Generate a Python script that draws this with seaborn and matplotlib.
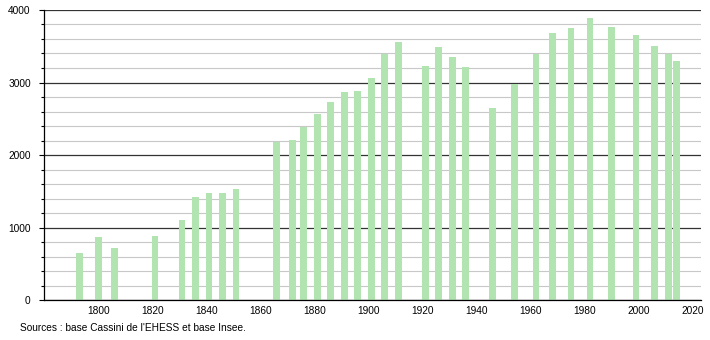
import matplotlib
matplotlib.use("Agg")
import matplotlib.pyplot as plt
import seaborn as sns
import pandas as pd
from matplotlib.ticker import MultipleLocator

years = [1793, 1800, 1806, 1821, 1831, 1836, 1841, 1846, 1851, 1866, 1872, 1876,
         1881, 1886, 1891, 1896, 1901, 1906, 1911, 1921, 1926, 1931, 1936, 1946,
         1954, 1962, 1968, 1975, 1982, 1990, 1999, 2006, 2011, 2014]
population = [650, 864, 717, 883, 1103, 1416, 1471, 1476, 1526, 2186, 2207, 2382,
              2561, 2731, 2869, 2883, 3062, 3389, 3559, 3228, 3490, 3352, 3214, 2648,
              2979, 3389, 3683, 3752, 3890, 3766, 3655, 3503, 3389, 3297]
x_ticks = [1800, 1820, 1840, 1860, 1880, 1900, 1920, 1940, 1960, 1980, 2000, 2020]
y_ticks = [0, 1000, 2000, 3000, 4000]
source_text = "Sources : base Cassini de l'EHESS et base Insee."

df = pd.DataFrame({"year": years, "pop": population})

sns.set_style("white")
plt.rcParams["font.family"] = ["Liberation Sans", "DejaVu Sans"]

fig = plt.figure(figsize=(7.1, 3.4), dpi=100)
ax = fig.add_axes([0.0624, 0.1176, 0.9246, 0.853])

sns.barplot(data=df, x="year", y="pop", native_scale=True, width=0.83,
            color="#b1e4b1", saturation=1, ax=ax, linewidth=0, edgecolor="none")
for p in ax.patches:
    p.set_zorder(3)
    p.set_linewidth(0)

ax.set_xlim(1780, 2023)
ax.set_ylim(0, 4000)
ax.set_xticks(x_ticks)
ax.set_xticklabels([str(t) for t in x_ticks])
ax.set_yticks(y_ticks)
ax.yaxis.set_minor_locator(MultipleLocator(200))
ax.set_xlabel("")
ax.set_ylabel("")

ax.grid(False)
ax.set_axisbelow(True)
ax.yaxis.grid(True, which="minor", color="#c8c8c8", linewidth=0.8)
ax.yaxis.grid(True, which="major", color="#333333", linewidth=0.9)

for s in ["right", "top"]:
    ax.spines[s].set_visible(False)
for s in ["left", "bottom"]:
    ax.spines[s].set_color("black")
    ax.spines[s].set_linewidth(0.9)
    ax.spines[s].set_zorder(4)

ax.tick_params(axis="x", which="both", length=0, labelsize=7.3, pad=4, colors="black")
ax.tick_params(axis="y", which="major", length=3.8, width=0.8, labelsize=7.3, pad=6,
               left=True, colors="black")
ax.tick_params(axis="y", which="minor", length=1.9, width=0.8, left=True, colors="black")

fig.text(20 / 710, 1 - 328 / 340, source_text, fontsize=7.3, ha="left", va="center",
         color="black")

fig.savefig("out.png", dpi=100)
